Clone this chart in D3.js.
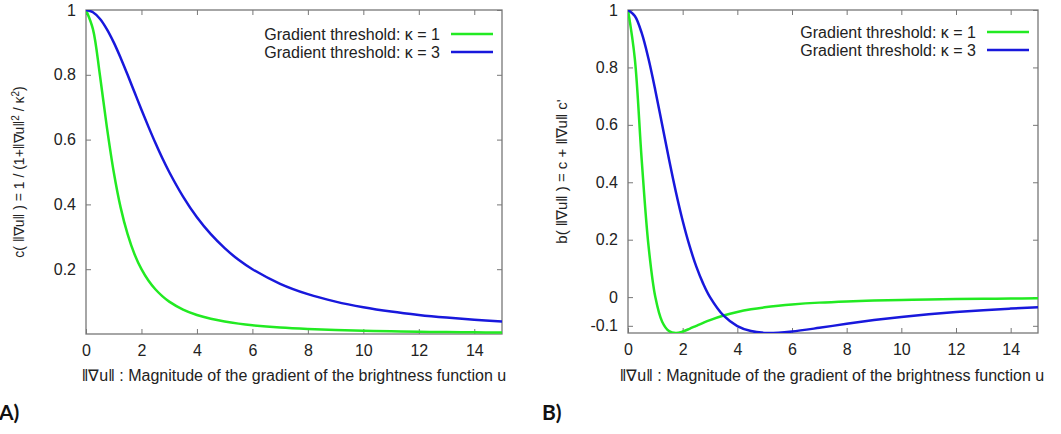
<!DOCTYPE html>
<html>
<head>
<meta charset="utf-8">
<script src="https://cdn.jsdelivr.net/npm/d3@7"></script>
<style>
    body { margin: 0; background: #fff; }
    text { font-family: "Liberation Sans", Arial, sans-serif; fill: #222; }
    .tick-label { font-size: 16px; }
    .axisText { font-size: 16px; }
    .legend { font-size: 16px; }
    .panelTag { font-family: Lato, "Open Sans", sans-serif; font-weight: bold; font-size: 21px; fill: #111; }
</style>
</head>
<body>
<div id="chart"></div>
<script>
// gradient magnitude samples (x axis)
var gradMag = [0, 0.25, 0.5, 0.75, 1, 1.25, 1.5, 1.75, 2, 2.25, 2.5, 2.75, 3, 3.5, 4, 4.5, 5, 5.5, 6, 7, 8, 9, 10, 11, 12, 13, 14, 15];

// A) diffusivity c for kappa = 1 and kappa = 3
var cKappa1 = [1, 0.941, 0.8, 0.64, 0.5, 0.39, 0.308, 0.246, 0.2, 0.165, 0.138, 0.117, 0.1, 0.0755, 0.0588, 0.0471, 0.0385, 0.032, 0.027, 0.02, 0.0154, 0.0122, 0.0099, 0.0082, 0.0069, 0.0059, 0.0051, 0.0044];
var cKappa3 = [1, 0.993, 0.973, 0.941, 0.9, 0.852, 0.8, 0.746, 0.692, 0.64, 0.59, 0.543, 0.5, 0.424, 0.36, 0.308, 0.265, 0.229, 0.2, 0.155, 0.123, 0.1, 0.0826, 0.0692, 0.0588, 0.0506, 0.0439, 0.0385];

// B) flux derivative b for kappa = 1 and kappa = 3
var bKappa1 = [1, 0.83, 0.48, 0.179, 0, -0.0857, -0.1183, -0.125, -0.12, -0.1105, -0.0999, -0.0895, -0.08, -0.0641, -0.0519, -0.0426, -0.0355, -0.03, -0.0256, -0.0192, -0.0149, -0.0119, -0.0097, -0.0081, -0.0068, -0.0058, -0.005, -0.0044];
var bKappa3 = [1, 0.979, 0.92, 0.83, 0.72, 0.6, 0.48, 0.367, 0.266, 0.179, 0.106, 0.047, 0, -0.0648, -0.1008, -0.1183, -0.1246, -0.1241, -0.12, -0.107, -0.0929, -0.08, -0.0689, -0.0596, -0.0519, -0.0454, -0.04, -0.0355];

var xTicks = [0, 2, 4, 6, 8, 10, 12, 14];
var yTicksA = [0.2, 0.4, 0.6, 0.8, 1];
var yTicksB = [-0.1, 0, 0.2, 0.4, 0.6, 0.8, 1];
var legendLabels = ["Gradient threshold: \u03ba = 1", "Gradient threshold: \u03ba = 3"];
var colors = ["#22ea22", "#1818dc"];

var svgWidth = 1061;
var svgHeight = 434;

var svg = d3.select("#chart")
    .append("svg")
    .attr("width", svgWidth)
    .attr("height", svgHeight);

function drawPanel(p) {
    var xScale = d3.scaleLinear().domain([0, 15]).range([p.left, p.right]);
    var yScale = d3.scaleLinear().domain(p.yDomain).range([p.bottom, p.top]);
    var g = svg.append("g");

    // clip so curves stay inside the frame
    g.append("clipPath").attr("id", p.id + "clip")
        .append("rect")
        .attr("x", p.left).attr("y", p.top)
        .attr("width", p.right - p.left).attr("height", p.bottom - p.top);

    // axes with inward ticks, mirrored
    var tickLen = 5;
    g.append("g").attr("transform", `translate(0,${p.bottom})`)
        .call(d3.axisBottom(xScale).tickValues(xTicks).tickSizeInner(-tickLen).tickSizeOuter(0).tickPadding(11));
    g.append("g").attr("transform", `translate(0,${p.top})`)
        .call(d3.axisTop(xScale).tickValues(xTicks).tickSizeInner(-tickLen).tickSizeOuter(0).tickFormat(""));
    g.append("g").attr("transform", `translate(${p.left},0)`)
        .call(d3.axisLeft(yScale).tickValues(p.yTicks).tickSizeInner(-tickLen).tickSizeOuter(0).tickPadding(10).tickFormat(d => String(d)));
    g.append("g").attr("transform", `translate(${p.right},0)`)
        .call(d3.axisRight(yScale).tickValues(p.yTicks).tickSizeInner(-tickLen).tickSizeOuter(0).tickFormat(""));

    g.selectAll(".domain").remove();
    g.selectAll(".tick line").attr("stroke", "#777");
    g.selectAll(".tick text")
        .attr("class", "tick-label")
        .attr("font-size", null)
        .attr("font-family", null)
        .attr("fill", "#222");

    g.append("rect")
        .attr("x", p.left).attr("y", p.top)
        .attr("width", p.right - p.left).attr("height", p.bottom - p.top)
        .attr("fill", "none").attr("stroke", "#777").attr("stroke-width", 1.3);

    var line = d3.line()
        .x((d, i) => xScale(gradMag[i]))
        .y(d => yScale(d))
        .curve(d3.curveCatmullRom);

    p.series.forEach(function(s, i) {
        g.append("path")
            .datum(s)
            .attr("clip-path", `url(#${p.id}clip)`)
            .attr("fill", "none")
            .attr("stroke", colors[i])
            .attr("stroke-width", 2.5)
            .attr("d", line);
    });

    // legend
    legendLabels.forEach(function(lbl, i) {
        var ly = p.top + p.legendTop + i * 18;
        g.append("text")
            .attr("class", "legend")
            .attr("x", p.right - 62)
            .attr("y", ly)
            .attr("dy", "0.35em")
            .attr("text-anchor", "end")
            .text(lbl);
        g.append("line")
            .attr("x1", p.right - 51).attr("x2", p.right - 9)
            .attr("y1", ly).attr("y2", ly)
            .attr("stroke", colors[i])
            .attr("stroke-width", 2.5);
    });

    // axis titles
    g.append("text")
        .attr("class", "axisText")
        .attr("x", p.xTitleX)
        .attr("y", 381)
        .attr("text-anchor", "middle")
        .text("\u2016\u2207u\u2016 : Magnitude of the gradient of the brightness function u");

    var yt = g.append("text")
        .attr("class", "axisText")
        .style("font-size", p.yTitleSize + "px")
        .attr("transform", `translate(${p.yTitleX},${(p.top + p.bottom) / 2}) rotate(-90)`)
        .attr("dy", "0.35em")
        .attr("text-anchor", "middle");
    p.yTitle.forEach(function(part) {
        var t = yt.append("tspan").text(part[0]);
        if (part[1]) t.attr("baseline-shift", "super").style("font-size", "10px");
    });

    g.append("text")
        .attr("class", "panelTag")
        .attr("x", p.tagX)
        .attr("y", 420)
        .text(p.tag);
}

drawPanel({
    id: "a", left: 86, right: 502, top: 10, bottom: 334,
    yDomain: [0, 1], yTicks: yTicksA, legendTop: 24,
    series: [cKappa1, cKappa3],
    xTitleX: 294, yTitleX: 19, yTitleSize: 14,
    yTitle: [["c( \u2016\u2207u\u2016 ) = 1 / (1+\u2016\u2207u\u2016"], ["2", true], [" / \u03ba"], ["2", true], [")"]],
    tag: "A)", tagX: -1
});

drawPanel({
    id: "b", left: 628, right: 1038, top: 10, bottom: 333,
    yDomain: [-0.125, 1], yTicks: yTicksB, legendTop: 22,
    series: [bKappa1, bKappa3],
    xTitleX: 832, yTitleX: 562, yTitleSize: 15,
    yTitle: [["b( \u2016\u2207u\u2016 ) = c + \u2016\u2207u\u2016 c'"]],
    tag: "B)", tagX: 542
});
</script>
</body>
</html>
